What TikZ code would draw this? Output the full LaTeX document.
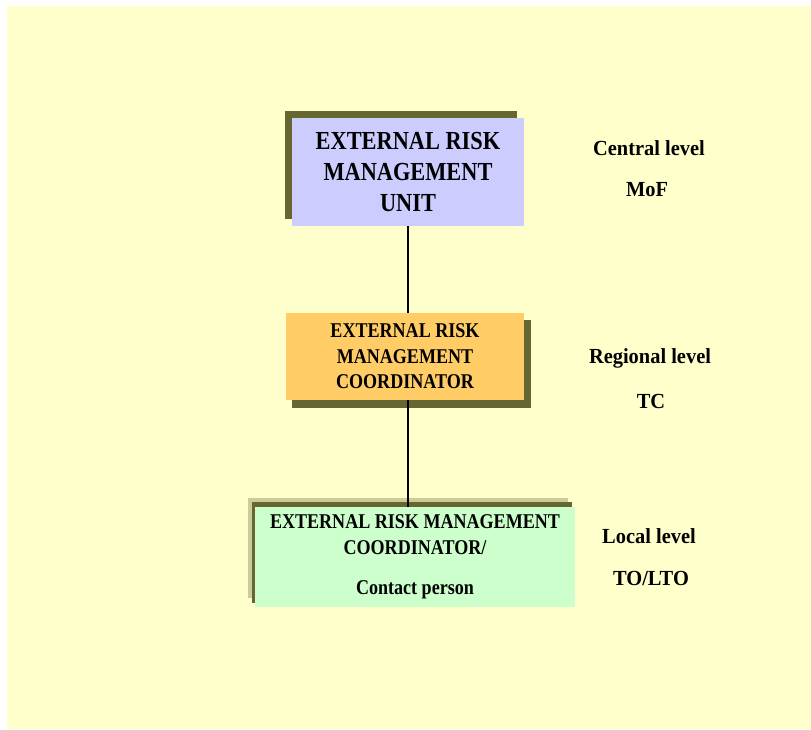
\documentclass[tikz,border=0pt]{standalone}
\usepackage{fontspec}
\setmainfont{Liberation Serif}
\newfontfamily\condfont[FakeStretch=0.86]{Liberation Serif}
\newfontfamily\lblfont[FakeStretch=0.95]{Liberation Serif}
\definecolor{bgyellow}{HTML}{FFFFCC}
\definecolor{lav}{HTML}{CCCCFF}
\definecolor{orng}{HTML}{FFCC66}
\definecolor{mint}{HTML}{CCFFCC}
\definecolor{olive}{HTML}{666633}
\definecolor{tan}{HTML}{CCCC99}
\tikzset{
  box/.style={rectangle, inner sep=0pt, align=center, text=black},
  lbl/.style={inner sep=0pt, font=\lblfont\bfseries\fontsize{21.5}{24}\selectfont},
}
\begin{document}
\begin{tikzpicture}[x=1pt,y=-1pt]
\useasboundingbox (0,0) rectangle (811,729);
\fill[bgyellow] (7,6) rectangle (811,729);
% box 1
\fill[olive] (285,111) rectangle (517,219);
\node[box, fill=lav, minimum width=232pt, minimum height=108pt,
  font=\condfont\bfseries\fontsize{26}{31}\selectfont] (b1) at (408,172)
  {EXTERNAL RISK\\MANAGEMENT\\UNIT};
% box 2
\fill[olive] (292,320) rectangle (531,408);
\node[box, fill=orng, minimum width=238pt, minimum height=87pt,
  font=\condfont\bfseries\fontsize{21}{25.5}\selectfont] (b2) at (405,356.5)
  {EXTERNAL RISK\\MANAGEMENT\\COORDINATOR};
% box 3
\fill[tan] (248,498) rectangle (568,598);
\fill[olive] (252,502) rectangle (572,603);
\node[box, fill=mint, minimum width=320pt, minimum height=100pt,
  font=\condfont\bfseries\fontsize{21}{26}\selectfont] (b3) at (415,557)
  {EXTERNAL RISK MANAGEMENT\\COORDINATOR/\\[14pt]Contact person};
% connectors
\coordinate (c1) at (408,0);
\draw[line width=1.3pt] (b1.south -| c1) -- (b2.north -| c1);
\draw[line width=1.3pt] (b2.south -| c1) -- (b3.north -| c1);
% labels
\node[lbl] (l1) at (649,148) {Central level};
\node[lbl] (l1b) at (647,190) {MoF};
\node[lbl] (l2) at (650,358) {Regional level};
\node[lbl] (l2b) at (651,401) {TC};
\node[lbl] (l3) at (649,536) {Local level};
\node[lbl] (l3b) at (651,578) {TO/LTO};
\end{tikzpicture}
\end{document}
